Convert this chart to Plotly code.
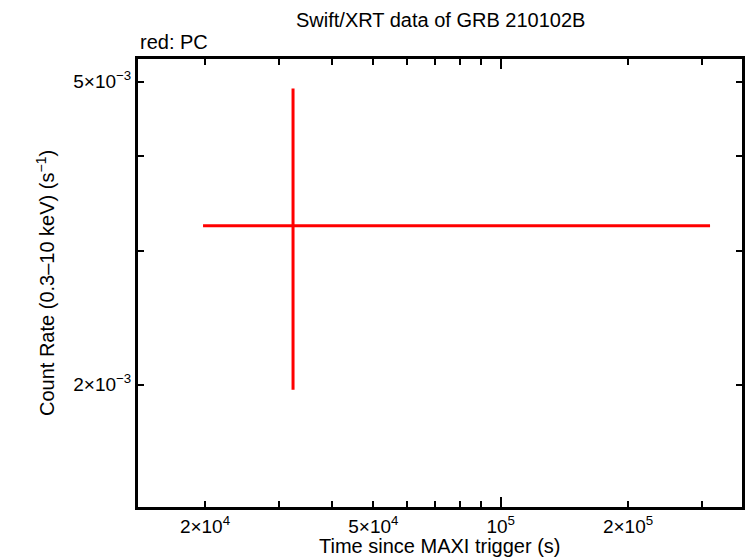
import math
import plotly.graph_objects as go

# Data
time_s = [32300]
time_err_minus = [12510]
time_err_plus = [280300]
rate = [3.235e-3]
rate_err_plus = [1.663e-3]
rate_err_minus = [1.265e-3]

x_tickvals = [2e4, 3e4, 4e4, 5e4, 6e4, 7e4, 8e4, 9e4, 1e5, 2e5, 3e5]
x_ticktext = ["2×10<sup>4</sup>", "", "", "5×10<sup>4</sup>", "", "", "", "", "10<sup>5</sup>", "2×10<sup>5</sup>", ""]
y_tickvals = [2e-3, 3e-3, 4e-3, 5e-3]
y_ticktext = ["2×10<sup>−3</sup>", "", "", "5×10<sup>−3</sup>"]
x_range = [13890, 372000]
y_range = [1.382e-3, 5.356e-3]

FONT = "Liberation Sans, Arial, Helvetica, sans-serif"

fig = go.Figure()
fig.add_trace(go.Scatter(
    x=time_s, y=rate, mode="markers",
    marker=dict(size=1, color="red", opacity=0),
    error_x=dict(type="data", symmetric=False, array=time_err_plus, arrayminus=time_err_minus,
                 color="red", thickness=3, width=0),
    error_y=dict(type="data", symmetric=False, array=rate_err_plus, arrayminus=rate_err_minus,
                 color="red", thickness=3, width=0),
    showlegend=False, hoverinfo="skip",
))
fig.add_trace(go.Scatter(x=[time_s[0]], y=rate, xaxis="x2", yaxis="y", mode="markers",
                         marker=dict(opacity=0), showlegend=False, hoverinfo="skip"))

axis_common = dict(showgrid=False, zeroline=False, showline=True, linecolor="black", linewidth=3,
                   mirror="ticks", ticks="inside", ticklen=6, tickwidth=2, tickcolor="black",
                   automargin=False, tickfont=dict(family=FONT, size=19, color="black"))

xr = [math.log10(v) for v in x_range]
fig.update_layout(
    width=746, height=558,
    margin=dict(l=138, r=4, t=59, b=51),
    paper_bgcolor="white", plot_bgcolor="white",
    font=dict(family=FONT, color="black"),
    xaxis=dict(type="log", range=xr, tickmode="array", tickvals=x_tickvals, ticktext=x_ticktext,
               **axis_common),
    xaxis2=dict(type="log", range=xr, overlaying="x", automargin=False,
                tickmode="array", tickvals=[1e5], ticktext=[""], showgrid=False, zeroline=False,
                showline=False, mirror="ticks", ticks="inside", ticklen=10, tickwidth=2,
                tickcolor="black", side="bottom", matches="x"),
    yaxis=dict(type="log", range=[math.log10(v) for v in y_range],
               tickmode="array", tickvals=y_tickvals, ticktext=y_ticktext, **axis_common),
    annotations=[
        dict(text="Swift/XRT data of GRB 210102B", x=0.5, y=1, xref="paper", yref="paper",
             showarrow=False, font=dict(size=20), xanchor="center", yanchor="middle", yshift=39),
        dict(text="red: PC", x=0, y=1, xref="paper", yref="paper", showarrow=False,
             font=dict(size=20), xanchor="left", yanchor="middle", yshift=17),
        dict(text="Time since MAXI trigger (s)", x=0.5, y=0, xref="paper", yref="paper",
             showarrow=False, font=dict(size=20), xanchor="center", yanchor="middle", yshift=-39),
        dict(text="Count Rate (0.3–10 keV) (s<sup>−1</sup>)", x=0, y=0.5, xref="paper", yref="paper",
             showarrow=False, font=dict(size=20), xanchor="center", yanchor="middle", xshift=-93,
             textangle=-90),
    ],
)

fig.write_html("out.html", config={"displayModeBar": False},
               post_script="document.body.style.margin='0';document.body.style.overflow='hidden';")
